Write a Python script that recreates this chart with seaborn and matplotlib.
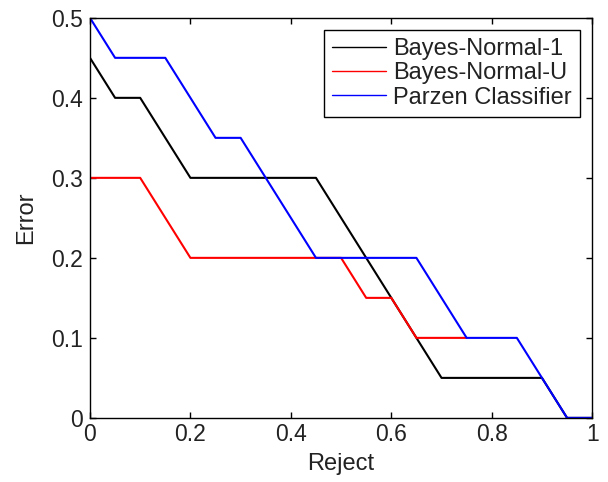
import matplotlib
matplotlib.use("Agg")
import matplotlib.pyplot as plt
import seaborn as sns
import pandas as pd

bn1_x = [0, 0.05, 0.1, 0.2, 0.45, 0.7, 0.9, 0.95, 1.0]
bn1_y = [0.45, 0.4, 0.4, 0.3, 0.3, 0.05, 0.05, 0.0, 0.0]
bnu_x = [0, 0.1, 0.2, 0.5, 0.55, 0.6, 0.65, 0.75]
bnu_y = [0.3, 0.3, 0.2, 0.2, 0.15, 0.15, 0.1, 0.1]
pz_x = [0, 0.05, 0.15, 0.25, 0.3, 0.45, 0.65, 0.75, 0.85, 0.95, 1.0]
pz_y = [0.5, 0.45, 0.45, 0.35, 0.35, 0.2, 0.2, 0.1, 0.1, 0.0, 0.0]
names = ["Bayes-Normal-1", "Bayes-Normal-U", "Parzen Classifier"]
colors = ["black", "red", "blue"]
xticks = [0, 0.2, 0.4, 0.6, 0.8, 1]
xticklabels = ["0", "0.2", "0.4", "0.6", "0.8", "1"]
yticks = [0, 0.1, 0.2, 0.3, 0.4, 0.5]
yticklabels = ["0", "0.1", "0.2", "0.3", "0.4", "0.5"]

sns.set_style("ticks")
plt.rcParams['font.family'] = ['Liberation Sans', 'DejaVu Sans']

frames = []
for n, xs, ys in zip(names, [bn1_x, bnu_x, pz_x], [bn1_y, bnu_y, pz_y]):
    frames.append(pd.DataFrame({"Reject": xs, "Error": ys, "Classifier": n}))
df = pd.concat(frames, ignore_index=True)

fig = plt.figure(figsize=(6.08, 4.82), dpi=100)
ax = fig.add_axes([0.148, 0.133, 0.826, 0.83])
for n, c in zip(names, colors):
    sub = df[df["Classifier"] == n]
    sns.lineplot(data=sub, x="Reject", y="Error", color=c, sort=False,
                 estimator=None, linewidth=1.5, label=n, ax=ax)

ax.set_xlim(0, 1)
ax.set_ylim(0, 0.5)
ax.set_xticks(xticks)
ax.set_xticklabels(xticklabels)
ax.set_yticks(yticks)
ax.set_yticklabels(yticklabels)
ax.tick_params(direction="in", top=True, right=True, labelsize=16.5, length=4.5,
               width=1, colors="black", labelcolor="#222222")
ax.tick_params(axis="x", pad=4)
ax.tick_params(axis="y", pad=5)
for s in ax.spines.values():
    s.set_linewidth(1.0)
    s.set_color("black")
ax.set_xlabel("Reject", fontsize=17, labelpad=5, color="#222222")
ax.set_ylabel("Error", fontsize=17, labelpad=10, color="#222222")

leg = ax.legend(loc="upper right", fontsize=17, frameon=True, fancybox=False,
                edgecolor="black", framealpha=1, handlelength=2.3,
                borderaxespad=0.5, labelspacing=0.1, handletextpad=0.3,
                borderpad=0.35)
leg.get_frame().set_linewidth(1.0)
for t in leg.get_texts():
    t.set_color("#222222")
for h in leg.get_lines():
    h.set_linewidth(1.0)

fig.savefig("out.png", dpi=100)
